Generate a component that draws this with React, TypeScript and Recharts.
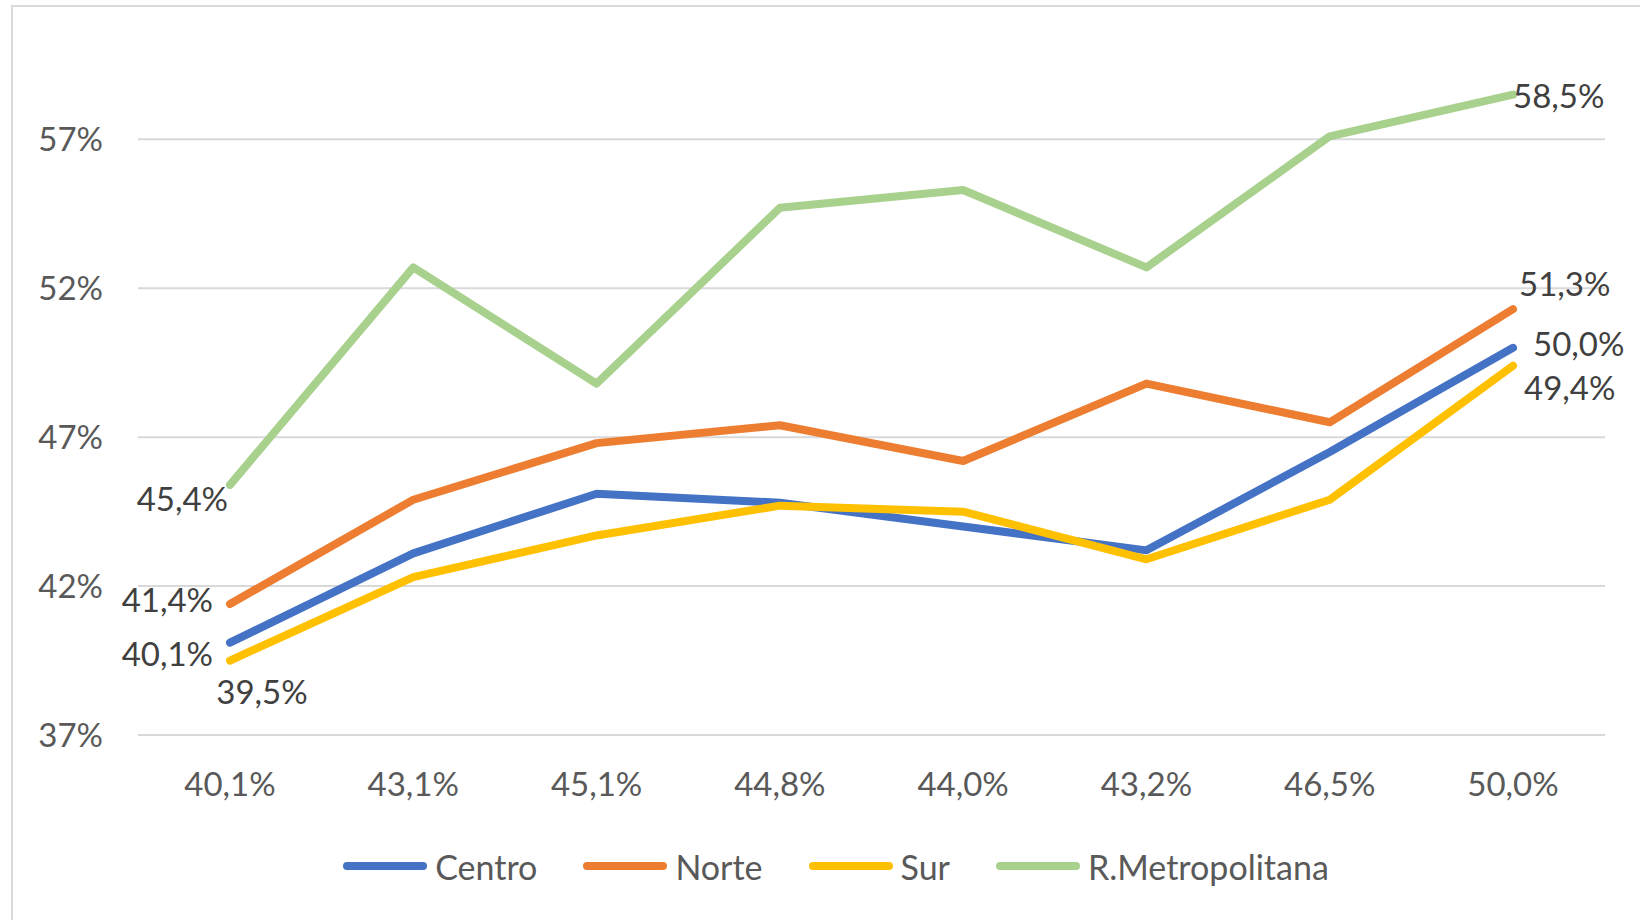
import { LineChart, Line, XAxis, YAxis, CartesianGrid, Legend, LabelList } from "recharts";

// category labels on the x axis
const categories = ["40,1%", "43,1%", "45,1%", "44,8%", "44,0%", "43,2%", "46,5%", "50,0%"];

const centro = [40.1, 43.1, 45.1, 44.8, 44.0, 43.2, 46.5, 50.0];
const norte = [41.4, 44.9, 46.8, 47.4, 46.2, 48.8, 47.5, 51.3];
const sur = [39.5, 42.3, 43.7, 44.7, 44.5, 42.9, 44.9, 49.4];
const metropolitana = [45.4, 52.7, 48.8, 54.7, 55.3, 52.7, 57.1, 58.5];

const yTicks = [37, 42, 47, 52, 57];

const data = categories.map((name, i) => ({
  name,
  centro: centro[i],
  norte: norte[i],
  sur: sur[i],
  rm: metropolitana[i],
}));

const FONT = "Lato, 'Open Sans', sans-serif";

type LabelPos = { dx: number; dy: number; anchor: "start" | "middle" | "end" };

// only first and last points carry a label, placed like the original
const series: { key: string; name: string; color: string; first: LabelPos; last: LabelPos }[] = [
  { key: "centro", name: "Centro", color: "#4472C4", first: { dx: -17, dy: 10, anchor: "end" }, last: { dx: 20, dy: -5, anchor: "start" } },
  { key: "norte", name: "Norte", color: "#ED7D31", first: { dx: -17, dy: -5, anchor: "end" }, last: { dx: 6, dy: -26, anchor: "start" } },
  { key: "sur", name: "Sur", color: "#FFC000", first: { dx: 32, dy: 30, anchor: "middle" }, last: { dx: 11, dy: 21, anchor: "start" } },
  { key: "rm", name: "R.Metropolitana", color: "#A9D18E", first: { dx: -2, dy: 13, anchor: "end" }, last: { dx: 0, dy: 0, anchor: "start" } },
];

const fmt = (v: number) => v.toFixed(1).replace(".", ",") + "%";

const makeLabel = (first: LabelPos, last: LabelPos) => (props: any) => {
  const { index, value } = props;
  const x = props.x ?? props.viewBox?.x;
  const y = props.y ?? props.viewBox?.y;
  const pos = index === 0 ? first : index === categories.length - 1 ? last : null;
  if (!pos || x == null || y == null) return null;
  return (
    <text
      x={x + pos.dx}
      y={y + pos.dy}
      textAnchor={pos.anchor}
      dominantBaseline="central"
      fontSize={33}
      fontFamily={FONT}
      fill="#404040"
    >
      {fmt(Number(value))}
    </text>
  );
};

const renderLegend = () => (
  <div style={{ display: "flex", justifyContent: "center", alignItems: "center", paddingLeft: 78, height: 40 }}>
    {series.map((s) => (
      <div key={s.key} style={{ display: "flex", alignItems: "center", marginRight: 46 }}>
        <span style={{ display: "inline-block", width: 84, height: 8, borderRadius: 4, background: s.color, marginRight: 8 }} />
        <span style={{ fontFamily: FONT, fontSize: 34, color: "#595959" }}>{s.name}</span>
      </div>
    ))}
  </div>
);

export default function App() {
  return (
    <div style={{ position: "absolute", left: 0, top: 0, width: 1640, height: 920, background: "#fff", overflow: "hidden" }}>
      <div style={{ position: "absolute", left: 11, top: 5, width: 1700, height: 1000, borderLeft: "2px solid #d9d9d9", borderTop: "2px solid #d9d9d9" }} />
      <LineChart width={1640} height={920} data={data} margin={{ top: 50, right: 35, left: 0, bottom: 125 }}>
        <CartesianGrid vertical={false} horizontalValues={yTicks} stroke="#d9d9d9" strokeWidth={2} />
        <XAxis
          dataKey="name"
          height={60}
          padding={{ left: 92, right: 92 }}
          axisLine={{ stroke: "#d9d9d9", strokeWidth: 2 }}
          tickLine={false}
          tickSize={0}
          tickMargin={38}
          tick={{ fontSize: 33, fill: "#595959", fontFamily: FONT }}
        />
        <YAxis
          width={138}
          domain={[37, 60]}
          ticks={yTicks}
          allowDataOverflow
          axisLine={false}
          tickLine={false}
          tickSize={0}
          tickMargin={35}
          tickFormatter={(v: number) => `${v}%`}
          tick={{ fontSize: 33, fill: "#595959", fontFamily: FONT }}
        />
        <Legend
          layout="horizontal"
          verticalAlign="middle"
          align="center"
          content={renderLegend}
          wrapperStyle={{ top: 846, left: 0, width: 1640 }}
        />
        {series.map((s) => (
          <Line
            key={s.key}
            type="linear"
            dataKey={s.key}
            name={s.name}
            stroke={s.color}
            strokeWidth={8}
            strokeLinecap="round"
            strokeLinejoin="round"
            dot={false}
            activeDot={false}
            isAnimationActive={false}
          >
            <LabelList dataKey={s.key} content={makeLabel(s.first, s.last)} />
          </Line>
        ))}
      </LineChart>
    </div>
  );
}
